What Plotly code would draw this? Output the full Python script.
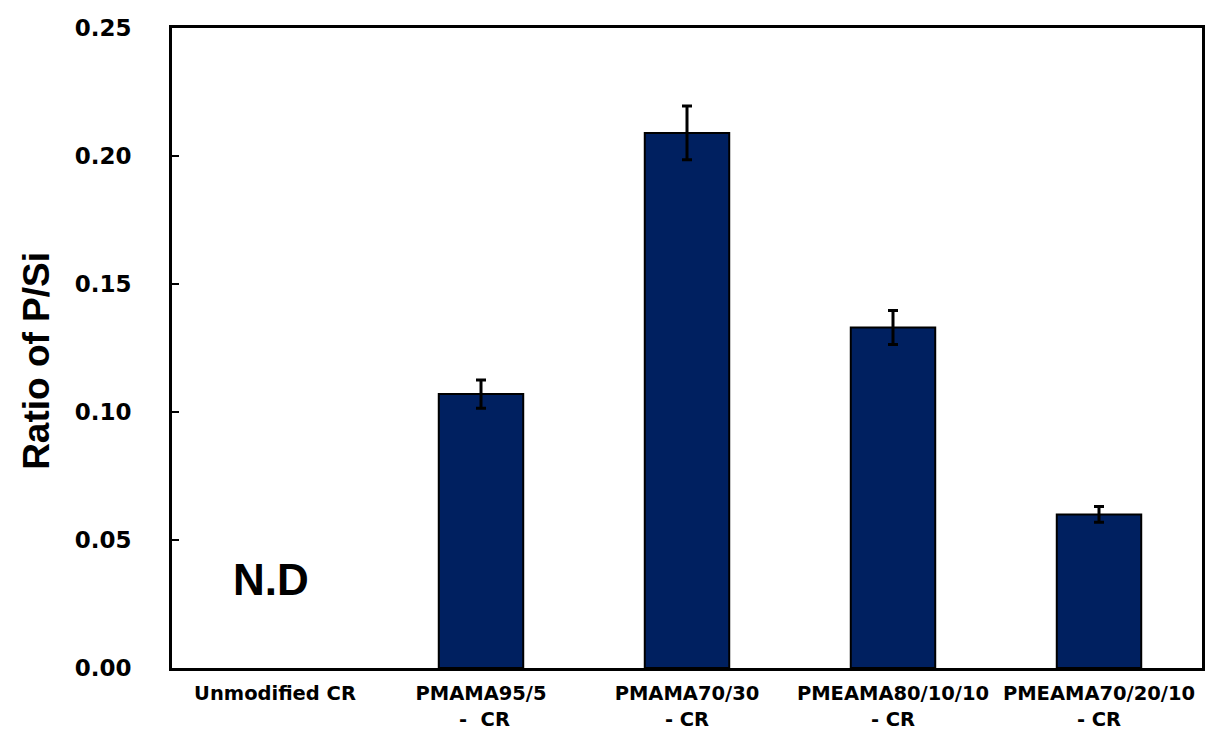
import plotly.graph_objects as go

categories = ["Unmodified CR", "PMAMA95/5<br> -  CR", "PMAMA70/30<br>- CR",
              "PMEAMA80/10/10<br>- CR", "PMEAMA70/20/10<br>- CR"]
values = [None, 0.107, 0.209, 0.133, 0.060]
errors = [None, 0.0055, 0.0105, 0.0066, 0.0031]
yticks = [0.00, 0.05, 0.10, 0.15, 0.20, 0.25]

fig = go.Figure()
fig.add_trace(go.Bar(
    x=categories, y=values, width=0.41,
    marker=dict(color="#002060", line=dict(color="black", width=2)),
    error_y=dict(type="data", array=errors, visible=True, color="black", thickness=3, width=5),
))

fig.add_annotation(x=0, y=0.0347, xref="x", yref="y", text="<b>N.D</b>", showarrow=False,
                   font=dict(family="Liberation Sans, Arial", size=44, color="black"), xshift=-4)

# y-axis title placed as rotated annotation
fig.add_annotation(x=-0.131, y=0.48, xref="paper", yref="paper", text="<b>Ratio of P/Si</b>",
                   textangle=-90, showarrow=False, xanchor="center", yanchor="middle",
                   font=dict(family="Liberation Sans, Arial", size=37, color="black"))

fig.update_layout(
    width=1207, height=734,
    margin=dict(l=172, r=5, t=28, b=66, autoexpand=False),
    plot_bgcolor="white", paper_bgcolor="white",
    showlegend=False,
    font=dict(family="Liberation Sans, Arial", color="black"),
)
fig.update_xaxes(
    showline=True, linecolor="black", linewidth=3, mirror=True,
    ticks="", tickfont=dict(size=19.5, family="DejaVu Sans", weight="bold"),
    ticklabelstandoff=6, automargin=False,
    showgrid=False,
)
fig.update_yaxes(
    range=[0, 0.25], tickvals=yticks, tickformat=".2f",
    showline=True, linecolor="black", linewidth=3, mirror=True,
    ticks="inside", ticklen=7, tickwidth=2, tickcolor="black",
    showgrid=False, zeroline=False, automargin=False,
    tickfont=dict(size=23, family="DejaVu Sans", weight="bold"),
    ticklabelstandoff=33,
)
fig.write_html("out.html")
